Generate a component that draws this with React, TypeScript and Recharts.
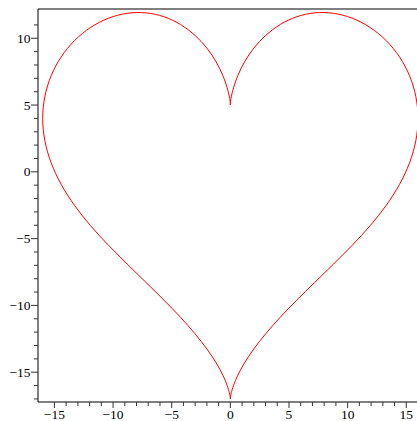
import React from 'react';
import { LineChart, Line, XAxis, YAxis, ReferenceLine } from 'recharts';

// points, right lobe from top cusp round to bottom cusp
const rightX = [0, 0.08, 0.64, 2.0, 4.25, 7.19, 10.39, 13.28, 15.28, 16.0, 15.28, 13.28, 10.39, 7.19, 4.25, 2.0, 0.64, 0.08, 0];
const rightY = [5.0, 5.61, 7.21, 9.26, 11.03, 11.9, 11.5, 9.83, 7.19, 4.0, 0.68, -2.52, -5.5, -8.28, -10.89, -13.26, -15.22, -16.54, -17.0];
// left lobe, same heights
const leftX = [0, -0.08, -0.64, -2.0, -4.25, -7.19, -10.39, -13.28, -15.28, -16.0, -15.28, -13.28, -10.39, -7.19, -4.25, -2.0, -0.64, -0.08, 0];
const leftY = [5.0, 5.61, 7.21, 9.26, 11.03, 11.9, 11.5, 9.83, 7.19, 4.0, 0.68, -2.52, -5.5, -8.28, -10.89, -13.26, -15.22, -16.54, -17.0];

const xTicks = [-15, -14, -13, -12, -11, -10, -9, -8, -7, -6, -5, -4, -3, -2, -1, 0, 1, 2, 3, 4, 5, 6, 7, 8, 9, 10, 11, 12, 13, 14, 15];
const yTicks = [-17, -16, -15, -14, -13, -12, -11, -10, -9, -8, -7, -6, -5, -4, -3, -2, -1, 0, 1, 2, 3, 4, 5, 6, 7, 8, 9, 10, 11];
const xLabels = [-15, -10, -5, 0, 5, 10, 15];
const yLabels = [-15, -10, -5, 0, 5, 10];

const xDomain: [number, number] = [-16.4, 16];
const yDomain: [number, number] = [-17.23, 12.19];

const toPoints = (xs: number[], ys: number[]) => xs.map((x, i) => ({ x, y: ys[i] }));
const rightLobe = toPoints(rightX, rightY);
const leftLobe = toPoints(leftX, leftY);

const labelStyle: React.CSSProperties = {
  fontFamily: '"Liberation Serif", "Times New Roman", Times, serif',
  fontSize: 13.5,
  fill: '#000',
};
const fmt = (v: number) => (v < 0 ? '\u2212' + Math.abs(v) : String(v));

const XTick = (props: any) => {
  const { x, y, payload } = props;
  const major = xLabels.includes(payload.value);
  return (
    <g>
      <line x1={x} x2={x} y1={y} y2={y + (major ? 6 : 4)} stroke="#333" />
      {major && (
        <text x={x} y={y + 17} textAnchor="middle" style={labelStyle}>
          {fmt(payload.value)}
        </text>
      )}
    </g>
  );
};

const YTick = (props: any) => {
  const { x, y, payload } = props;
  const major = yLabels.includes(payload.value);
  return (
    <g>
      <line x1={x - (major ? 7 : 4)} x2={x} y1={y} y2={y} stroke="#333" />
      {major && (
        <text x={x - 7.5} y={y + 4.5} textAnchor="end" style={labelStyle}>
          {fmt(payload.value)}
        </text>
      )}
    </g>
  );
};

export default function App() {
  return (
    <div style={{ position: 'absolute', left: 0, top: 0, width: 417, height: 421, overflow: 'hidden', background: '#fff' }}>
      <LineChart width={418} height={421} margin={{ top: 9, right: 0, bottom: 0, left: 0 }}>
        <XAxis
          type="number"
          dataKey="x"
          domain={xDomain}
          allowDataOverflow
          ticks={xTicks}
          interval={0}
          height={19}
          tickSize={0}
          tickMargin={0}
          tickLine={false}
          axisLine={{ stroke: '#000' }}
          tick={<XTick />}
        />
        <YAxis
          type="number"
          dataKey="y"
          domain={yDomain}
          allowDataOverflow
          ticks={yTicks}
          interval={0}
          width={38}
          tickSize={0}
          tickMargin={0}
          tickLine={false}
          axisLine={{ stroke: '#000' }}
          tick={<YTick />}
        />
        <ReferenceLine y={yDomain[1]} stroke="#000" />
        <Line data={rightLobe} dataKey="y" type="natural" stroke="#ff0000" strokeWidth={1} dot={false} isAnimationActive={false} />
        <Line data={leftLobe} dataKey="y" type="natural" stroke="#ff0000" strokeWidth={1} dot={false} isAnimationActive={false} />
      </LineChart>
    </div>
  );
}
